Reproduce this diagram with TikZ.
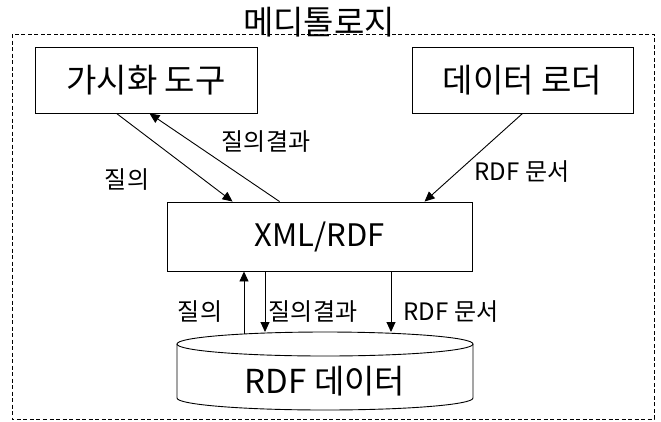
\documentclass[tikz,border=0pt]{standalone}
\usepackage{fontspec}
\setmainfont{Noto Sans CJK KR}
\usetikzlibrary{arrows.meta}

\tikzset{
box/.style={draw, line width=0.9pt, minimum width=222pt, minimum height=66pt,
  font=\fontsize{33}{33}\selectfont},
lbl/.style={font=\fontsize{24}{24}\selectfont, inner sep=0pt},
arr/.style={line width=0.9pt, -{Triangle[length=10pt,width=9pt]}}
}

\begin{document}
\begin{tikzpicture}[x=1pt,y=-1pt]
\useasboundingbox (0,0) rectangle (661,421);

% outer frame
\draw[line width=0.9pt, dash pattern=on 4pt off 2.5pt] (12,34) rectangle (654,419);
\node[font=\fontsize{33}{33}\selectfont, inner sep=0pt] (title) at (319,22) {메디톨로지};

\node[box] (vis) at (146,80) {가시화 도구};
\node[box, minimum width=221pt] (loader) at (522.5,80) {데이터 로더};
\node[box, minimum width=305pt, minimum height=69pt,
  font=\fontsize{31}{31}\selectfont] (xml) at (319.5,236.5) {XML/RDF};

% database cylinder
\draw[line width=0.9pt] (325,344) ellipse [x radius=148, y radius=12];
\draw[line width=0.9pt] (177,344) -- (177,398)
  arc[start angle=180, end angle=0, x radius=148, y radius=12] -- (473,344);
\node[font=\fontsize{33}{33}\selectfont] (db) at (325,381) {RDF 데이터};

\coordinate (db1) at (244,334);
\coordinate (db2) at (265,332);
\coordinate (db3) at (391,332);

\draw[arr] ([xshift=82pt]vis.south west) -- ([xshift=66pt]xml.north west);
\draw[arr] ([xshift=113pt]xml.north west) -- ([xshift=115pt]vis.south west);
\draw[arr] ([xshift=111pt]loader.south west) -- ([xshift=258pt]xml.north west);

\draw[arr] (db1) -- (db1 |- xml.south);
\draw[arr] (db2 |- xml.south) -- (db2);
\draw[arr] (db3 |- xml.south) -- (db3);

\node[lbl] (q1) at (127,180) {질의};
\node[lbl] (r1) at (266,142) {질의결과};
\node[lbl] (d1) at (522,172) {RDF 문서};
\node[lbl] (q2) at (200,312) {질의};
\node[lbl] (r2) at (313,312) {질의결과};
\node[lbl] (d2) at (451,312) {RDF 문서};

\end{tikzpicture}
\end{document}
